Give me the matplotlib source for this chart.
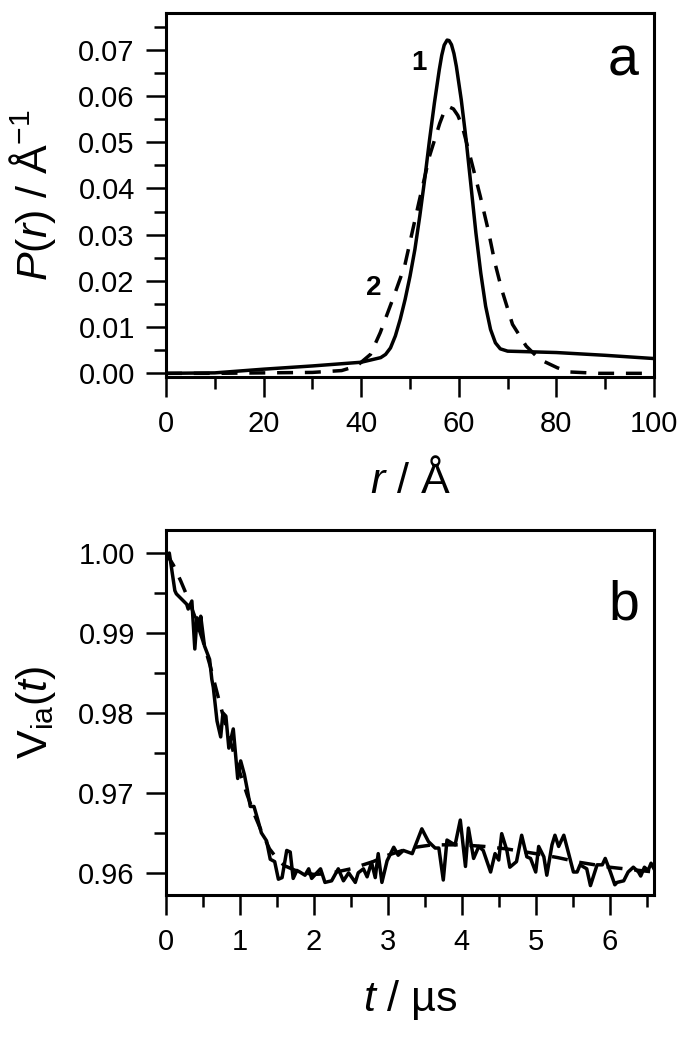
import matplotlib
matplotlib.use("Agg")
import matplotlib.pyplot as plt
from matplotlib.ticker import MultipleLocator, FormatStrFormatter

plt.rcParams['font.family'] = ['Liberation Sans', 'DejaVu Sans']
plt.rcParams['mathtext.fontset'] = 'custom'
plt.rcParams['mathtext.rm'] = 'Liberation Sans'
plt.rcParams['mathtext.it'] = 'Liberation Sans:italic'

# panel a: distance distributions P(r)
r1 = [0, 10, 20, 30, 40, 44, 45, 46, 47, 48, 49, 50, 51, 52, 53, 54, 55, 56, 56.5,
      57, 57.6, 58.0, 58.5, 59.0, 59.5, 60.5, 61.5, 62.5, 63.5, 64.5, 65.5, 66.5,
      67.5, 68.5, 70, 80, 90, 100]
p1 = [0.0, 0.0001, 0.0009, 0.0016, 0.0024, 0.0034, 0.0041, 0.0055, 0.0081, 0.0117,
      0.016, 0.021, 0.0268, 0.034, 0.0419, 0.0505, 0.0585, 0.0657, 0.0688, 0.0710,
      0.0721, 0.0720, 0.0711, 0.0692, 0.0664, 0.0592, 0.0505, 0.0405, 0.0304,
      0.0217, 0.0145, 0.0095, 0.0066, 0.0053, 0.0048, 0.0045, 0.0039, 0.0032]

r2 = [0, 10, 20, 30, 36, 39.1, 41.9, 43.9, 46.7, 48.9, 51.8, 54, 56.1, 57.0, 57.9,
      58.9, 59.8, 60.7, 62.5, 64.4, 66, 67.4, 68.8, 71, 73.8, 76.6, 80.2, 82.6,
      88.7, 100]
p2 = [0.0, 0.0, 0.0001, 0.0002, 0.0006, 0.0016, 0.0041, 0.0088, 0.0167, 0.0232,
      0.0369, 0.047, 0.0541, 0.0566, 0.0577, 0.0572, 0.0558, 0.0535, 0.0462, 0.0383,
      0.0311, 0.0239, 0.0181, 0.0106, 0.0059, 0.003, 0.0012, 0.0003, 0.0, 0.0]

# panel b: experimental trace and fit
t_exp = [0.0, 0.045, 0.12, 0.14, 0.28, 0.30, 0.35, 0.39, 0.42, 0.45, 0.47, 0.52,
         0.59, 0.62, 0.64, 0.69, 0.74, 0.77, 0.81, 0.85, 0.91, 0.97, 1.01, 1.06,
         1.10, 1.14, 1.19, 1.24, 1.29, 1.36, 1.41, 1.47, 1.52, 1.57, 1.633, 1.68,
         1.72, 1.77, 1.81, 1.88, 1.93, 1.97, 2.09, 2.15, 2.24, 2.33, 2.40, 2.47,
         2.56, 2.60, 2.67, 2.72, 2.78, 2.83, 2.87, 2.92, 2.99, 3.08, 3.14, 3.21,
         3.33, 3.46, 3.55, 3.64, 3.69, 3.75, 3.80, 3.87, 3.91, 3.98, 4.05, 4.09,
         4.16, 4.23, 4.29, 4.39, 4.45, 4.50, 4.54, 4.61, 4.65, 4.74, 4.81, 4.88,
         4.93, 5.00, 5.04, 5.11, 5.15, 5.22, 5.26, 5.31, 5.38, 5.44, 5.51, 5.56,
         5.60, 5.69, 5.74, 5.83, 5.90, 5.94, 6.01, 6.07, 6.10, 6.19, 6.25, 6.32,
         6.39, 6.42, 6.47, 6.52, 6.56, 6.60]
v_exp = [0.9990, 1.0000, 0.9953, 0.9949, 0.9936, 0.9930, 0.9940, 0.9880, 0.9919,
         0.9903, 0.9921, 0.9884, 0.9867, 0.9842, 0.9832, 0.9790, 0.9770, 0.9800,
         0.9796, 0.9756, 0.9780, 0.9718, 0.9740, 0.9723, 0.9704, 0.9683, 0.9683,
         0.9667, 0.9650, 0.9640, 0.9617, 0.9614, 0.9592, 0.9594, 0.9628, 0.9626,
         0.9593, 0.9603, 0.9601, 0.9597, 0.9605, 0.9593, 0.9605, 0.9588, 0.9590,
         0.9605, 0.9590, 0.9600, 0.9588, 0.9600, 0.9605, 0.9595, 0.9613, 0.9594,
         0.9624, 0.9588, 0.9615, 0.9632, 0.9622, 0.9628, 0.9624, 0.9655, 0.9639,
         0.9631, 0.9631, 0.9591, 0.9641, 0.9637, 0.9635, 0.9666, 0.9608, 0.9656,
         0.9618, 0.9633, 0.9628, 0.9601, 0.9624, 0.9616, 0.9649, 0.9628, 0.9607,
         0.9614, 0.9647, 0.9620, 0.9618, 0.9601, 0.9633, 0.9620, 0.9597, 0.9635,
         0.9647, 0.9633, 0.9647, 0.9626, 0.9601, 0.9601, 0.9610, 0.9605, 0.9584,
         0.9610, 0.9610, 0.9618, 0.9601, 0.9585, 0.9588, 0.9590, 0.9601, 0.9607,
         0.9601, 0.9596, 0.9607, 0.9603, 0.9612, 0.9605]

t_fit = [0.0, 0.1, 0.2, 0.3, 0.4, 0.5, 0.6, 0.7, 0.8, 0.9, 1.0, 1.1, 1.2, 1.3, 1.4,
         1.5, 1.6, 1.8, 2.0, 2.2, 2.5, 2.8, 3.0, 3.3, 3.6, 4.0, 4.3, 4.6, 5.0, 5.3,
         5.6, 6.0, 6.3, 6.6]
v_fit = [1.0000, 0.9985, 0.9965, 0.9943, 0.9918, 0.9890, 0.9858, 0.9822, 0.9787,
         0.9755, 0.9725, 0.9697, 0.9672, 0.9650, 0.9630, 0.9618, 0.9609, 0.9601,
         0.9598, 0.9599, 0.9605, 0.9614, 0.9622, 0.9631, 0.9635, 0.9635, 0.9633,
         0.9630, 0.9624, 0.9619, 0.9613, 0.9607, 0.9604, 0.9601]

fig = plt.figure(figsize=(6.91, 10.45), dpi=100)
ax1 = fig.add_axes([0.2402, 0.6392, 0.7063, 0.3481])
ax2 = fig.add_axes([0.2402, 0.1435, 0.7063, 0.3493])

lw = 2.5
dash = (4.6, 3.4)

ax1.plot(r1, p1, color='black', lw=lw)
ax1.plot(r2, p2, color='black', lw=lw, linestyle=(0, dash))
ax1.set_xlim(0, 100)
ax1.set_ylim(-0.0008, 0.0779)
ax1.xaxis.set_major_locator(MultipleLocator(20))
ax1.xaxis.set_minor_locator(MultipleLocator(10))
ax1.yaxis.set_major_locator(MultipleLocator(0.01))
ax1.yaxis.set_minor_locator(MultipleLocator(0.005))
ax1.yaxis.set_major_formatter(FormatStrFormatter('%.2f'))
ax1.set_xlabel(r'$r$ / Å', fontsize=31, labelpad=16)
ax1.set_ylabel(r'$P$($r$) / Å$^{-1}$', fontsize=31, labelpad=15)
ax1.text(51.8, 0.0671, '1', fontsize=20, fontweight='bold', ha='center', va='center')
ax1.text(42.5, 0.0185, '2', fontsize=20, fontweight='bold', ha='center', va='center')
ax1.text(93.6, 0.0674, 'a', fontsize=40, ha='center', va='center')

ax2.plot(t_exp, v_exp, color='black', lw=lw)
ax2.plot(t_fit, v_fit, color='black', lw=lw, linestyle=(0, dash))
ax2.set_xlim(0, 6.6)
ax2.set_ylim(0.95722, 1.00288)
ax2.xaxis.set_major_locator(MultipleLocator(1))
ax2.xaxis.set_minor_locator(MultipleLocator(0.5))
ax2.yaxis.set_major_locator(MultipleLocator(0.01))
ax2.yaxis.set_minor_locator(MultipleLocator(0.005))
ax2.yaxis.set_major_formatter(FormatStrFormatter('%.2f'))
ax2.set_xlabel(r'$t$ / µs', fontsize=31, labelpad=16)
ax2.set_ylabel(r'V$_{\rm ia}$($t$)', fontsize=31, labelpad=15)
ax2.text(6.19, 0.9935, 'b', fontsize=40, ha='center', va='center')

for ax in (ax1, ax2):
    for s in ax.spines.values():
        s.set_linewidth(2.2)
    ax.tick_params(which='both', direction='out', top=False, right=False,
                   width=1.8, labelsize=21)
    ax.tick_params(which='major', length=14.4)
    ax.tick_params(which='minor', length=8.5)
    ax.tick_params(axis='x', pad=9)
    ax.tick_params(axis='y', pad=8)

fig.savefig('out.png', dpi=100)
